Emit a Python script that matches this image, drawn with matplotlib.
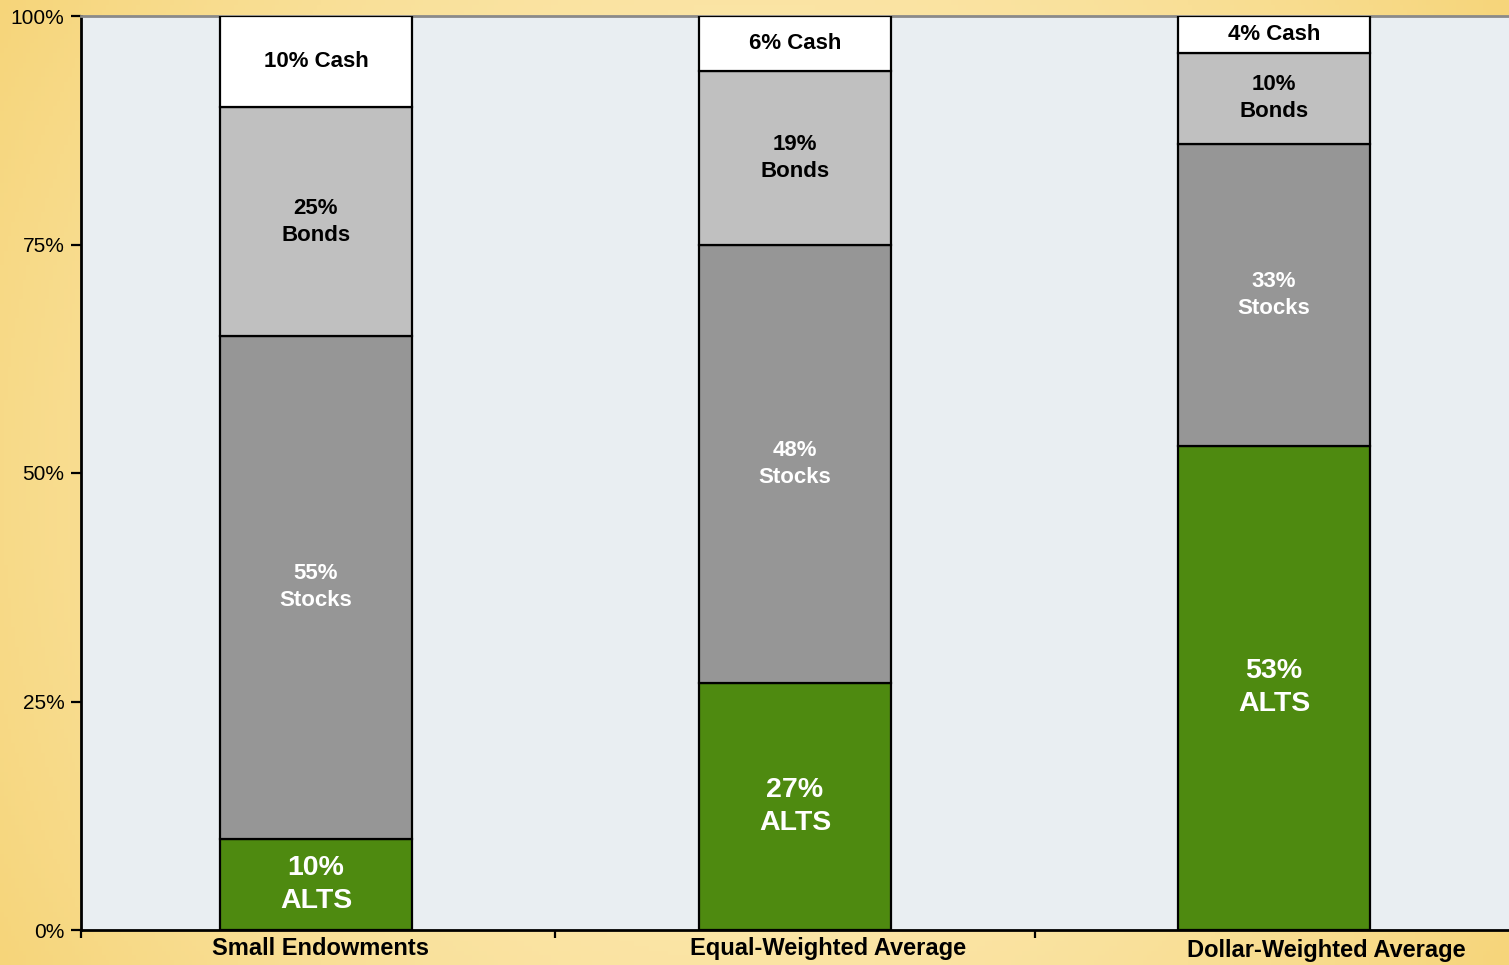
import numpy as np
import matplotlib
matplotlib.use("Agg")
import matplotlib.pyplot as plt
from matplotlib.colors import LinearSegmentedColormap
from matplotlib.transforms import blended_transform_factory

plt.rcParams['font.family'] = ['Liberation Sans', 'DejaVu Sans']

# Asset allocation by endowment group (percent of portfolio)
categories = ["Small Endowments", "Equal-Weighted Average", "Dollar-Weighted Average"]
alts = [10, 27, 53]
stocks = [55, 48, 33]
bonds = [25, 19, 10]
cash = [10, 6, 4]
y_ticks = [0, 25, 50, 75, 100]
y_tick_labels = ["0%", "25%", "50%", "75%", "100%"]

fig = plt.figure(figsize=(15.09, 9.65), dpi=100)

# warm gradient backdrop
bg = fig.add_axes([0, 0, 1, 1], zorder=-10)
xx = np.linspace(-1, 1, 400)
yy = np.linspace(-1, 1, 200)
X, Y = np.meshgrid(xx, yy)
Z = np.clip(0.75 * X**2 + 0.25 * Y**2, 0, 1)
cmap_bg = LinearSegmentedColormap.from_list("warm", ["#FCE9B2", "#F6D57A"])
bg.imshow(Z, cmap=cmap_bg, aspect="auto", extent=[0, 1, 0, 1], vmin=0, vmax=1)
bg.axis("off")

ax = fig.add_axes([81 / 1509, 1 - 930 / 965, 1 - 81 / 1509, (930 - 16) / 965])
ax.set_facecolor("#E9EEF2")

x = np.arange(len(categories))
width = 0.40
edge = dict(edgecolor="black", linewidth=1.6)

ax.bar(x, alts, width, color="#4E8A10", **edge, zorder=3)
bottom = np.array(alts, dtype=float)
ax.bar(x, stocks, width, bottom=bottom, color="#969696", **edge, zorder=3)
bottom2 = bottom + np.array(stocks)
ax.bar(x, bonds, width, bottom=bottom2, color="#C0C0C0", **edge, zorder=3)
bottom3 = bottom2 + np.array(bonds)
ax.bar(x, cash, width, bottom=bottom3, color="#FFFFFF", **edge, zorder=3)

for i in range(len(categories)):
    ax.text(x[i], alts[i] / 2, f"{alts[i]}%\nALTS", ha="center", va="center",
            color="white", fontsize=20.5, fontweight="bold", linespacing=1.36, zorder=4)
    ax.text(x[i], bottom[i] + stocks[i] / 2, f"{stocks[i]}%\nStocks", ha="center", va="center",
            color="white", fontsize=16, fontweight="bold", linespacing=1.36, zorder=4)
    ax.text(x[i], bottom2[i] + bonds[i] / 2, f"{bonds[i]}%\nBonds", ha="center", va="center",
            color="black", fontsize=16, fontweight="bold", linespacing=1.36, zorder=4)
    ax.text(x[i], bottom3[i] + cash[i] / 2, f"{cash[i]}% Cash", ha="center", va="center",
            color="black", fontsize=16, fontweight="bold", zorder=4)

x_left, x_right = -0.4906, 2.4906
ax.set_xlim(x_left, x_right)
ax.set_ylim(0, 100)
ax.set_yticks(y_ticks)
ax.set_yticklabels(y_tick_labels, fontsize=15)
ax.tick_params(axis="y", length=7, width=1.6, direction="out", pad=5)
ax.set_xticks([x_left, 0.5, 1.5])
ax.set_xticklabels([])
ax.tick_params(axis="x", length=6, width=1.6, direction="out")

for side in ["left", "bottom"]:
    ax.spines[side].set_linewidth(2)
    ax.spines[side].set_color("black")
ax.spines["top"].set_color("#8A8A8A")
ax.spines["top"].set_linewidth(2)
ax.spines["right"].set_visible(False)

# category names under the axis
label_x = [0.01, 1.07, 2.11]
label_y = [-0.020, -0.020, -0.022]
trans = blended_transform_factory(ax.transData, ax.transAxes)
for lx, ly, name in zip(label_x, label_y, categories):
    ax.text(lx, ly, name, transform=trans, ha="center", va="center",
            fontsize=17, fontweight="bold", color="black")

fig.savefig("out.png", dpi=100)
